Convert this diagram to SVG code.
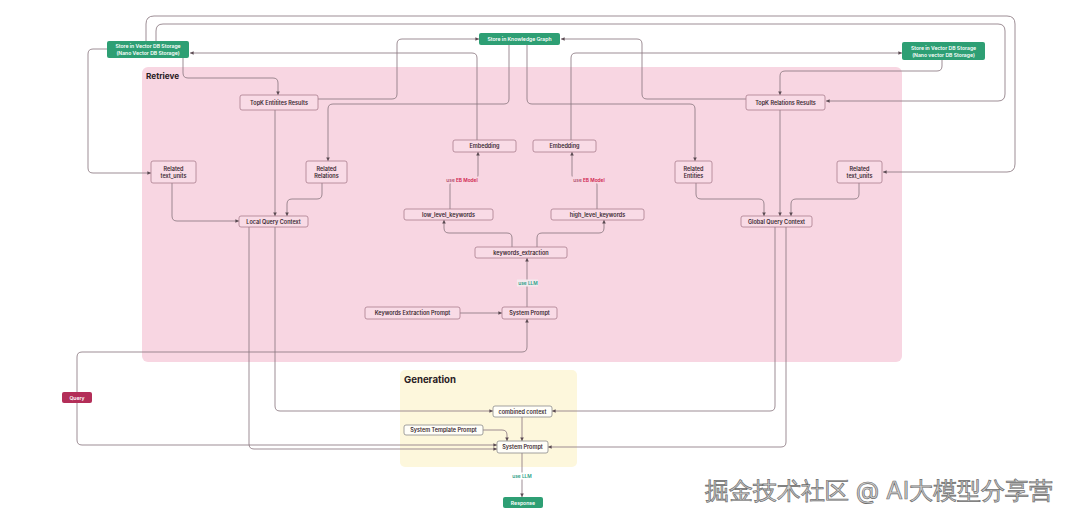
<svg xmlns="http://www.w3.org/2000/svg" width="1080" height="521" viewBox="0 0 1080 521">
<style>
.n rect{fill:#f9dbe6;stroke:#a97d8d;stroke-width:0.8}
.g rect{fill:#fffef8;stroke:#8a8a8a;stroke-width:0.8}
.gr rect{fill:#2e9f74}
.q rect{fill:#b32e58}
text{font-family:Inter,"Liberation Sans",sans-serif}
.t{font-size:5.5px;font-weight:600;fill:#3a2a32;text-anchor:middle;dominant-baseline:central}
.w{font-size:5.1px;font-weight:600;fill:#ffffff;text-anchor:middle;dominant-baseline:central}
.c path{fill:none;stroke:#8c7a82;stroke-width:0.85}
.lbl{font-size:4.8px;font-weight:600;text-anchor:middle;dominant-baseline:central}
.h{font-weight:700;fill:#2a2024}
</style>
<defs>
<marker id="a" viewBox="0 0 6 6" refX="6" refY="3" markerWidth="3.6" markerHeight="3.6" markerUnits="userSpaceOnUse" orient="auto"><path d="M0,0 L6,3 L0,6 z" fill="#5a4a52"/></marker>
</defs>
<rect width="1080" height="521" fill="#ffffff"/>
<rect id="retrieve" x="142" y="67" width="760" height="295" rx="6" fill="#f8d6e2"/>
<text x="146" y="76" class="h" font-size="8.2" dominant-baseline="central">Retrieve</text>
<rect id="generation" x="400" y="370" width="177" height="97" rx="5" fill="#fdf7dc"/>
<text x="404" y="379" class="h" font-size="9.6" dominant-baseline="central">Generation</text>

<g class="c" marker-end="url(#a)">
<path d="M146,41 V24 Q146,16 154,16 H1007 Q1015,16 1015,24 V164 Q1015,172 1007,172 H883"/>
<path d="M156,41 V31 Q156,24 163,24 H998 Q1005,24 1005,31 V94 Q1005,101 998,101 H826"/>
<path d="M107,49 H93 Q88,49 88,54 V168 Q88,173 93,173 H151"/>
<path d="M183,58 V73 Q183,78 188,78 H273 Q278,78 278,83 V95"/>
<path d="M477,140 V58 Q477,53 472,53 H190"/>
<path d="M318,99 H392 Q397,99 397,94 V44 Q397,39 402,39 H479"/>
<path d="M509,45 V99 Q509,104 504,104 H333 Q328,104 328,109 V161"/>
<path d="M527,45 V99 Q527,104 532,104 H690 Q695,104 695,109 V161"/>
<path d="M746,99 H647 Q642,99 642,94 V44 Q642,39 637,39 H561"/>
<path d="M571,140 V58 Q571,53 576,53 H902"/>
<path d="M942,60 V66 Q942,71 937,71 H785 Q780,71 780,76 V95"/>
<path d="M275,110 V216"/>
<path d="M322,183 V194 Q322,199 317,199 H292 Q287,199 287,204 V216"/>
<path d="M172,183 V216 Q172,221 177,221 H239"/>
<path d="M780,110 V216"/>
<path d="M696,183 V194 Q696,199 701,199 H759 Q764,199 764,204 V216"/>
<path d="M859,183 V194 Q859,199 854,199 H796 Q791,199 791,204 V216"/>
<path d="M450,209 V185 Q450,180 455,180 H473 Q478,180 478,175 V152"/>
<path d="M597,209 V185 Q597,180 592,180 H577 Q572,180 572,175 V152"/>
<path d="M512,247 V238 Q512,233 507,233 H449 Q444,233 444,228 V220"/>
<path d="M537,247 V238 Q537,233 542,233 H599 Q604,233 604,228 V220"/>
<path d="M527,307 V258"/>
<path d="M460,313 H502"/>
<path d="M77,392 V357 Q77,352 82,352 H522 Q527,352 527,347 V319"/>
<path d="M77,403 V440 Q77,445 82,445 H497"/>
<path d="M249,227 V444 Q249,449 254,449 H497"/>
<path d="M275,227 V406 Q275,411 280,411 H493"/>
<path d="M775,227 V406 Q775,411 770,411 H552"/>
<path d="M786,227 V442 Q786,447 781,447 H548"/>
<path d="M522,417 V441"/>
<path d="M483,430 H502 Q507,430 507,435 V441"/>
<path d="M522,453 V497"/>
</g>

<g id="labels">
<rect x="443" y="176.5" width="37" height="7" fill="#f8d6e2"/>
<text x="462" y="180" class="lbl"><tspan fill="#b0506e">use </tspan><tspan fill="#d0204e">EB Model</tspan></text>
<rect x="570" y="176.5" width="38" height="7" fill="#f8d6e2"/>
<text x="589" y="180" class="lbl"><tspan fill="#b0506e">use </tspan><tspan fill="#d0204e">EB Model</tspan></text>
<rect x="517" y="279.5" width="21" height="7" fill="#f3e9ee"/>
<text x="528" y="283" class="lbl" fill="#2a9e86">use LLM</text>
<rect x="511" y="472.5" width="22" height="7" fill="#ffffff"/>
<text x="522" y="476" class="lbl" fill="#2a9e86">use LLM</text>
</g>

<g id="vdb-left" class="gr"><rect x="107" y="41" width="82" height="17" rx="2"/><text class="w" x="148" y="46">Store in Vector DB Storage</text><text class="w" x="148" y="53">(Nano Vector DB Storage)</text></g>
<g id="kg" class="gr"><rect x="479" y="33" width="81" height="12" rx="2"/><text class="w" x="519.5" y="39">Store in Knowledge Graph</text></g>
<g id="vdb-right" class="gr"><rect x="902" y="42" width="83" height="18" rx="2"/><text class="w" x="943.5" y="47.5">Store in Vector DB Storage</text><text class="w" x="943.5" y="54.5">(Nano vector DB Storage)</text></g>

<g id="topk-ent" class="n"><rect x="240" y="95" width="78" height="15" rx="2"/><text class="t" x="279" y="102.5">TopK Entitites Results</text></g>
<g id="topk-rel" class="n"><rect x="746" y="95" width="79" height="15" rx="2"/><text class="t" x="785.5" y="102.5">TopK Relations Results</text></g>
<g id="emb-left" class="n"><rect x="453" y="140" width="63" height="12" rx="2"/><text class="t" x="484.5" y="146">Embedding</text></g>
<g id="emb-right" class="n"><rect x="533" y="140" width="63" height="12" rx="2"/><text class="t" x="564.5" y="146">Embedding</text></g>
<g id="rtu-left" class="n"><rect x="151" y="161" width="45" height="22" rx="2"/><text class="t" x="173.5" y="169">Related</text><text class="t" x="173.5" y="176">text_units</text></g>
<g id="rel-rel" class="n"><rect x="306" y="161" width="41" height="22" rx="2"/><text class="t" x="326.5" y="169">Related</text><text class="t" x="326.5" y="176">Relations</text></g>
<g id="rel-ent" class="n"><rect x="675" y="161" width="37" height="22" rx="2"/><text class="t" x="693.5" y="169">Related</text><text class="t" x="693.5" y="176">Entities</text></g>
<g id="rtu-right" class="n"><rect x="837" y="161" width="45" height="22" rx="2"/><text class="t" x="859.5" y="169">Related</text><text class="t" x="859.5" y="176">text_units</text></g>
<g id="low-kw" class="n"><rect x="404" y="209" width="89" height="11" rx="2"/><text class="t" x="448.5" y="214.5">low_level_keywords</text></g>
<g id="high-kw" class="n"><rect x="551" y="209" width="93" height="11" rx="2"/><text class="t" x="597.5" y="214.5">high_level_keywords</text></g>
<g id="lqc" class="n"><rect x="239" y="216" width="69" height="11" rx="2"/><text class="t" x="273.5" y="221.5">Local Query Context</text></g>
<g id="gqc" class="n"><rect x="741" y="216" width="71" height="11" rx="2"/><text class="t" x="776.5" y="221.5">Global Query Context</text></g>
<g id="kw-ext" class="n"><rect x="475" y="247" width="92" height="11" rx="2"/><text class="t" x="521" y="252.5">keywords_extraction</text></g>
<g id="kep" class="n"><rect x="365" y="307" width="95" height="12" rx="2"/><text class="t" x="412.5" y="313">Keywords Extraction Prompt</text></g>
<g id="sp-ret" class="n"><rect x="502" y="307" width="55" height="12" rx="2"/><text class="t" x="529.5" y="313">System Prompt</text></g>

<g id="query" class="q"><rect x="62" y="392" width="30" height="11" rx="2"/><text class="w" x="77" y="397.5">Query</text></g>
<g id="combined" class="g"><rect x="493" y="406" width="59" height="11" rx="2"/><text class="t" x="522.5" y="411.5">combined context</text></g>
<g id="stp" class="g"><rect x="404" y="425" width="79" height="10" rx="2"/><text class="t" x="443.5" y="430">System Template Prompt</text></g>
<g id="sp-gen" class="g"><rect x="497" y="441" width="51" height="12" rx="2"/><text class="t" x="522.5" y="447">System Prompt</text></g>
<g id="response" class="gr"><rect x="503" y="497" width="40" height="11" rx="2"/><text class="w" x="523" y="502.5">Response</text></g>

<text x="705" y="499" font-family="'Noto Sans CJK SC','Liberation Sans',sans-serif" font-size="24.2" fill="#cfcfcf" stroke="#6e6e6e" stroke-width="0.7">掘金技术社区 @ AI大模型分享营</text>
</svg>
